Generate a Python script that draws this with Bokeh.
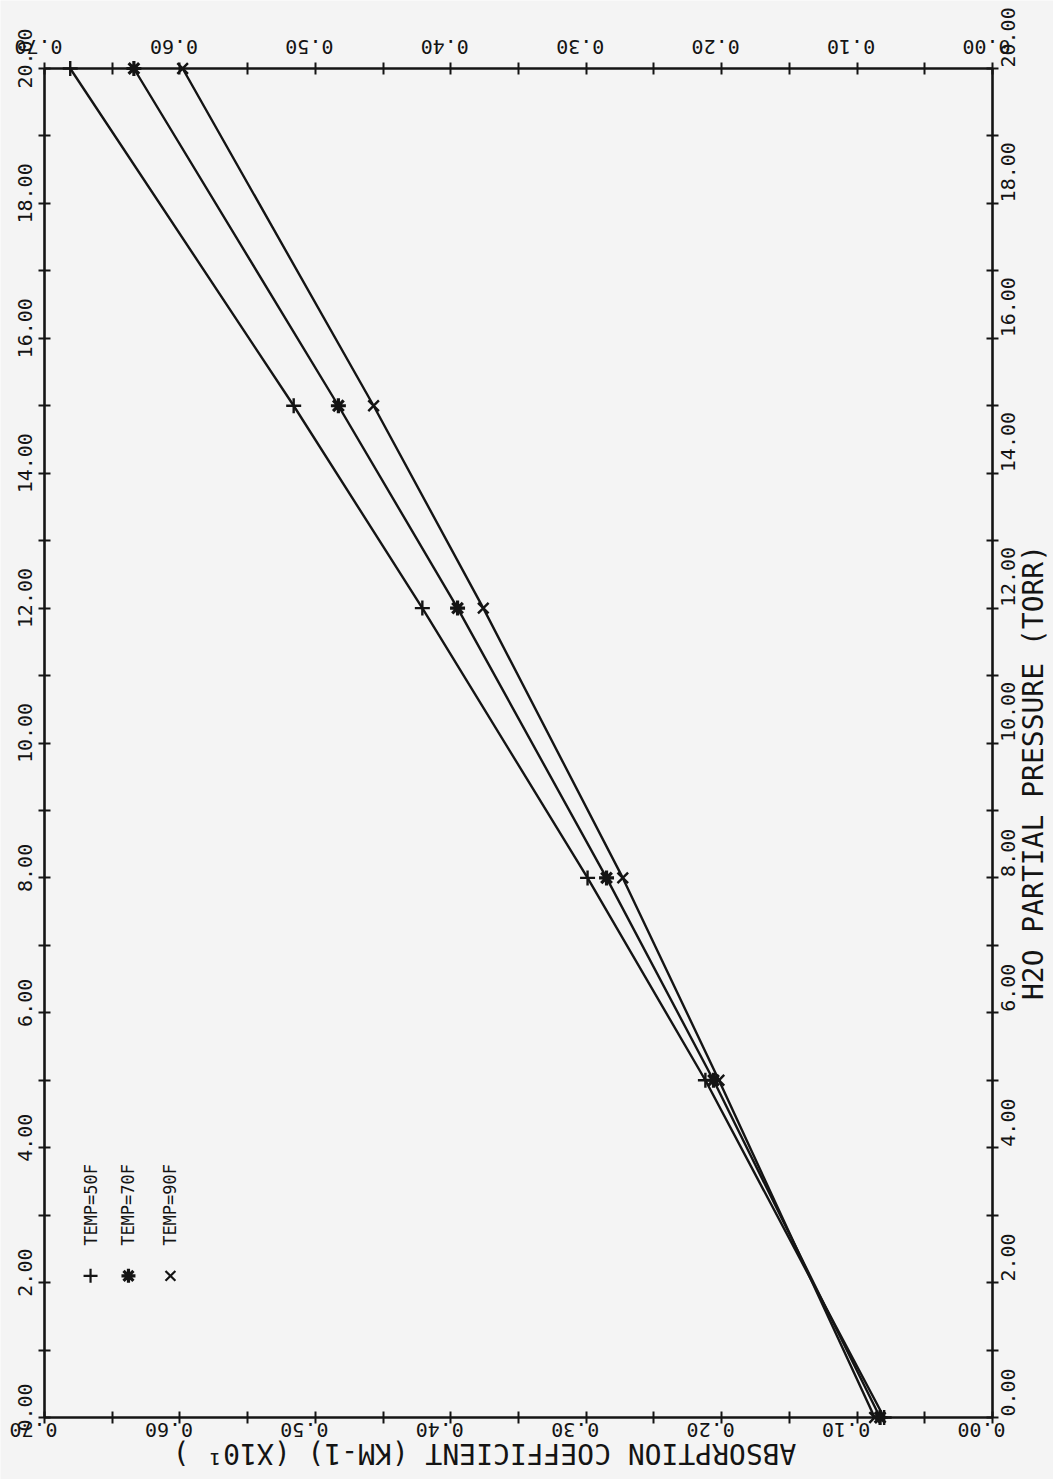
import math
from bokeh.plotting import figure
from bokeh.models import FixedTicker, Range1d, LinearAxis, Label, CustomJSTickFormatter
from bokeh.core.properties import value
from bokeh.embed import file_html
from bokeh.resources import INLINE

# ---------------- data ----------------
pressure = [0, 5, 8, 12, 15, 20]                        # H2O partial pressure (torr)
coef_50F = [0.080, 0.212, 0.299, 0.421, 0.516, 0.681]   # absorption coefficient (x10 km-1)
coef_70F = [0.083, 0.206, 0.285, 0.395, 0.483, 0.634]
coef_90F = [0.087, 0.202, 0.273, 0.376, 0.457, 0.598]

series_names = ["TEMP=50F", "TEMP=70F", "TEMP=90F"]
series_markers = ["cross", "asterisk", "x"]

coef_labels = [0.0, 0.1, 0.2, 0.3, 0.4, 0.5, 0.6, 0.7]
coef_ticks = [round(0.05 * i, 2) for i in range(15)]
press_labels = [0, 2, 4, 6, 8, 10, 12, 14, 16, 18, 20]
press_ticks = list(range(21))

x_title = "ABSORPTION COEFFICIENT (KM-1) (X10\u00b9 )"
y_title = "H2O PARTIAL PRESSURE (TORR)"

# ---------------- layout / style ----------------
FONT = "DejaVu Sans Mono"
INK = "#141414"
BG = "#f4f4f4"
W, H = 1053, 1479
BOX_L, BOX_R, BOX_T, BOX_B = 44, 992, 68, 1417       # plotting box in pixels
C_MAX, P_MAX = 0.7, 20.0
kx = (BOX_R - BOX_L) / C_MAX
ky = (BOX_B - BOX_T) / P_MAX

p = figure(width=W, height=H, output_backend="svg", toolbar_location=None,
           x_range=Range1d(C_MAX + BOX_L / kx, 0.0 - (W - BOX_R) / kx),
           y_range=Range1d(0.0 - (H - BOX_B) / ky, P_MAX + BOX_T / ky),
           x_axis_location=None, y_axis_location=None,
           min_border=0, min_border_left=0, min_border_right=0,
           min_border_top=0, min_border_bottom=0,
           background_fill_color=BG, border_fill_color=BG, outline_line_color=None)
p.grid.visible = False

blank = CustomJSTickFormatter(code="return ''")


def frame_axis(side, loc, ticks, bounds):
    ax = LinearAxis(fixed_location=loc, bounds=bounds,
                    ticker=FixedTicker(ticks=ticks, minor_ticks=[]),
                    formatter=blank)
    ax.axis_line_color = INK
    ax.axis_line_width = 2.6
    ax.major_tick_line_color = INK
    ax.major_tick_line_width = 2
    ax.major_tick_in = 6
    ax.major_tick_out = 6
    ax.minor_tick_line_color = None
    ax.major_label_text_font_size = "0px"
    p.add_layout(ax, side)
    return ax


frame_axis("below", 0.0, coef_ticks, (0.0, C_MAX))
frame_axis("above", P_MAX, coef_ticks, (0.0, C_MAX))
frame_axis("left", C_MAX, press_ticks, (0.0, P_MAX))
frame_axis("right", 0.0, press_ticks, (0.0, P_MAX))

# ---------------- tick labels (rotated like the reference) ----------------
lab_font = value(FONT)
LAB_SIZE = "20px"
ctext = ["%.2f" % v for v in coef_labels]
ptext = ["%.2f" % v for v in press_labels]
# bottom: upside-down
p.text(coef_labels, [0.0] * len(coef_labels), text=ctext, angle=math.pi,
       text_align="center", text_baseline="middle", x_offset=-11, y_offset=12,
       text_font=lab_font, text_font_size=LAB_SIZE, text_color=INK)
# top: upside-down
p.text(coef_labels, [P_MAX] * len(coef_labels), text=ctext, angle=math.pi,
       text_align="center", text_baseline="middle", x_offset=-6, y_offset=-22,
       text_font=lab_font, text_font_size=LAB_SIZE, text_color=INK)
# left: reading upward, centred
p.text([C_MAX] * len(press_labels), press_labels, text=ptext, angle=math.pi / 2,
       text_align="center", text_baseline="middle", x_offset=-20, y_offset=-10,
       text_font=lab_font, text_font_size=LAB_SIZE, text_color=INK)
# right: reading upward, starting at the tick
p.text([0.0] * len(press_labels), press_labels, text=ptext, angle=math.pi / 2,
       text_align="left", text_baseline="middle", x_offset=15, y_offset=-1,
       text_font=lab_font, text_font_size=LAB_SIZE, text_color=INK)

# ---------------- data series ----------------
series = [coef_50F, coef_70F, coef_90F]
for vals, mk in zip(series, series_markers):
    p.line(vals, pressure, line_color=INK, line_width=2.4)
    p.scatter(vals, pressure, marker=mk, size=15, line_color=INK,
              line_width=3.2 if mk == "asterisk" else 2.4, fill_color=INK)

# ---------------- legend (rotated) ----------------
leg_x = [0.666, 0.638, 0.607]   # legend columns (layout)
leg_y = 2.1
for name, mk, lx in zip(series_names, series_markers, leg_x):
    p.scatter([lx], [leg_y], marker=mk, size=14, line_color=INK,
              line_width=3.2 if mk == "asterisk" else 2.2, fill_color=INK)
    p.text([lx], [leg_y], text=[name], angle=math.pi / 2, text_align="left",
           text_baseline="middle", y_offset=-30,
           text_font=lab_font, text_font_size="17px", text_color=INK)

# ---------------- axis titles ----------------
p.add_layout(Label(x=484, y=H - 1453, x_units="screen", y_units="screen", text=x_title,
                   angle=math.pi, text_align="center", text_baseline="middle",
                   text_font=FONT, text_font_size="28px", text_color=INK))
p.add_layout(Label(x=1033, y=H - 772, x_units="screen", y_units="screen", text=y_title,
                   angle=math.pi / 2, text_align="center", text_baseline="middle",
                   text_font=FONT, text_font_size="28px", text_color=INK))

open("out.html", "w").write(file_html(p, INLINE))
